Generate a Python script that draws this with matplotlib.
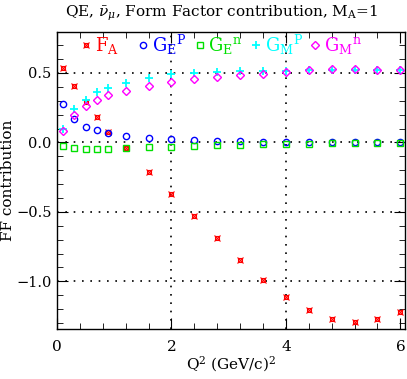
import matplotlib
matplotlib.use("Agg")
import matplotlib.pyplot as plt
from matplotlib.ticker import MultipleLocator

plt.rcParams["font.family"] = "DejaVu Serif"
plt.rcParams["mathtext.fontset"] = "dejavuserif"

# Q^2 points (GeV/c)^2
q2 = [0.1, 0.3, 0.5, 0.7, 0.9, 1.2, 1.6, 2.0, 2.4, 2.8, 3.2, 3.6, 4.0, 4.4, 4.8, 5.2, 5.6, 6.0]

fa = [0.537, 0.403, 0.29, 0.18, 0.072, -0.041, -0.216, -0.374, -0.530, -0.688,
      -0.844, -0.988, -1.113, -1.209, -1.271, -1.293, -1.274, -1.219]
gep = [0.28, 0.170, 0.112, 0.086, 0.065, 0.048, 0.031, 0.021, 0.017, 0.012,
       0.007, 0.005, 0.004, 0.003, 0.002, 0.001, 0.001, 0.001]
gen = [-0.027, -0.041, -0.046, -0.046, -0.044, -0.043, -0.034, -0.031, -0.027, -0.021,
       -0.017, -0.012, -0.008, -0.008, -0.006, -0.005, -0.005, -0.005]
gmp = [0.10, 0.237, 0.304, 0.362, 0.395, 0.43, 0.467, 0.49, 0.503, 0.51,
       0.515, 0.512, 0.515, 0.52, 0.522, 0.522, 0.521, 0.518]
gmn = [0.081, 0.196, 0.261, 0.304, 0.338, 0.371, 0.407, 0.434, 0.453, 0.468,
       0.484, 0.496, 0.508, 0.52, 0.525, 0.525, 0.523, 0.518]

RED = "#ff0000"
BLUE = "#0000ff"
GREEN = "#00e000"
CYAN = "#00ffff"
MAG = "#ff00ff"

fig = plt.figure(figsize=(4.07, 3.79), dpi=100)
ax = fig.add_axes([0.140, 0.132, 0.855, 0.784])
ax.set_xlim(0, 6.08)
ax.set_ylim(-1.343, 0.796)

# dotted grid at major ticks
for yv in [0.5, 0.0, -0.5, -1.0]:
    ax.axhline(yv, color="black", lw=1.2, ls=(0, (1, 4)), zorder=1)
for xv in [2, 4]:
    ax.axvline(xv, color="black", lw=1.2, ls=(0, (1, 4)), zorder=1)


def fa_marker(x, y):
    # small square with spikes at the corners
    ax.plot(x, y, ls="none", marker="s", ms=2.6, mfc="none", mec=RED, mew=0.8, zorder=3)
    ax.plot(x, y, ls="none", marker="x", ms=5, mec=RED, mew=0.8, zorder=3)


ms = 4.5
fa_marker(q2, fa)
ax.plot(q2, gep, ls="none", marker="o", ms=ms, mfc="none", mec=BLUE, mew=1.0, zorder=3)
ax.plot(q2, gen, ls="none", marker="s", ms=ms, mfc="none", mec=GREEN, mew=1.0, zorder=3)
ax.plot(q2, gmp, ls="none", marker="+", ms=6, mec=CYAN, mew=1.3, zorder=3)
ax.plot(q2, gmn, ls="none", marker="D", ms=4, mfc="none", mec=MAG, mew=1.0, zorder=4)

# in-plot legend
ly = 0.70
fa_marker([0.5], [ly])
ax.text(0.66, ly, r"$\mathrm{F_A}$", color=RED, fontsize=13, va="center")
ax.plot([1.5], [ly], ls="none", marker="o", ms=ms, mfc="none", mec=BLUE, mew=1.0)
ax.text(1.66, ly, r"$\mathrm{G_E}^{\mathrm{P}}$", color=BLUE, fontsize=13, va="center")
ax.plot([2.5], [ly], ls="none", marker="s", ms=ms, mfc="none", mec=GREEN, mew=1.0)
ax.text(2.64, ly, r"$\mathrm{G_E}^{\mathrm{n}}$", color=GREEN, fontsize=13, va="center")
ax.plot([3.48], [ly], ls="none", marker="+", ms=6, mec=CYAN, mew=1.3)
ax.text(3.64, ly, r"$\mathrm{G_M}^{\mathrm{P}}$", color=CYAN, fontsize=13, va="center")
ax.plot([4.5], [ly], ls="none", marker="D", ms=4, mfc="none", mec=MAG, mew=1.0)
ax.text(4.66, ly, r"$\mathrm{G_M}^{\mathrm{n}}$", color=MAG, fontsize=13, va="center")

ax.xaxis.set_major_locator(MultipleLocator(2))
ax.xaxis.set_minor_locator(MultipleLocator(0.4))
ax.yaxis.set_major_locator(MultipleLocator(0.5))
ax.yaxis.set_minor_locator(MultipleLocator(0.1))
ax.tick_params(which="both", direction="in", top=True, right=True, labelsize=11)
ax.tick_params(which="major", length=8)
ax.tick_params(which="minor", length=4)
ax.set_yticks([0.5, 0.0, -0.5, -1.0])
ax.set_yticklabels(["0.5", "0.0", "\u22120.5", "\u22121.0"])
ax.tick_params(axis="x", pad=8)
ax.tick_params(axis="y", pad=4, labelsize=10.5)
for s in ax.spines.values():
    s.set_linewidth(1.0)

ax.set_xlabel(r"Q$^2$ (GeV/c)$^2$", fontsize=11, labelpad=0)
ax.set_ylabel("FF contribution", fontsize=11)
ax.yaxis.set_label_coords(-0.122, 0.5)
fig.text(222 / 407, 1 - 13 / 379,
         r"QE, $\bar{\nu}_\mu$, Form Factor contribution, M$_\mathrm{A}$=1",
         fontsize=11, ha="center", va="center")

fig.savefig("out.png", dpi=100)
